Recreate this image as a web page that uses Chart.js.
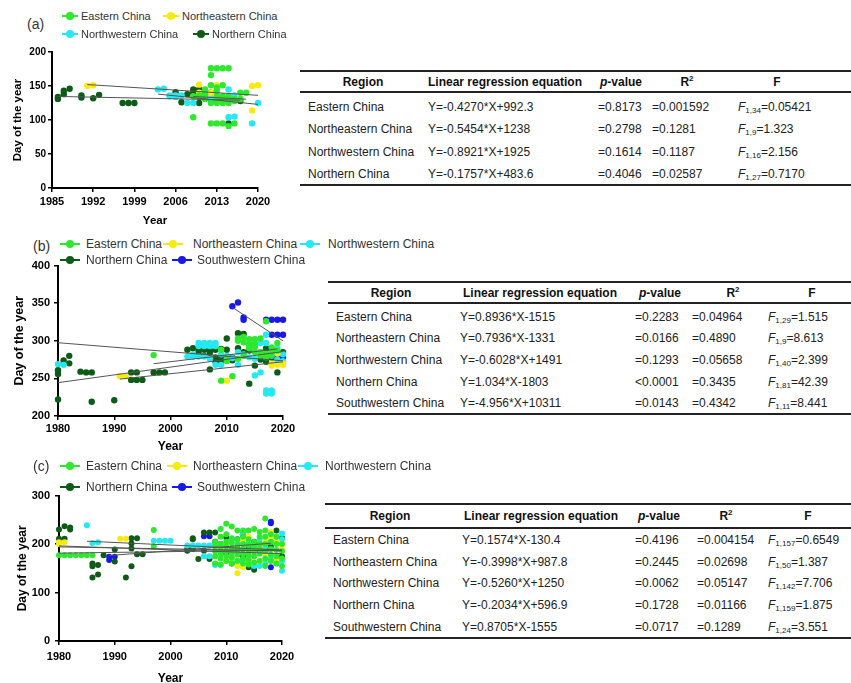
<!DOCTYPE html>
<html>
<head>
<meta charset="utf-8">
<script src="https://cdn.jsdelivr.net/npm/chart.js@4.4.1/dist/chart.umd.min.js"></script>
<style>
  body { margin: 0; width: 851px; height: 683px; overflow: hidden; background: #fff; position: relative;
         font-family: "Liberation Sans", Arial, sans-serif; }
  canvas { position: absolute; }
  .tag { position: absolute; font-size: 14px; color: #333; line-height: 16px; }
  .lg { position: absolute; color: #333; white-space: nowrap; }
  .mk { position: absolute; height: 8px; }
  .mk .ln { position: absolute; left: 0; right: 0; top: 3.25px; height: 1.5px; }
  .mk .dt { position: absolute; left: 50%; top: 0; width: 8px; height: 8px; margin-left: -4px; border-radius: 50%; }
  .rule { position: absolute; height: 2px; background: #222; }
  .cell { position: absolute; font-size: 12px; line-height: 14px; color: #222; white-space: nowrap; }
  .hd { font-weight: bold; color: #111; transform: translateX(-50%); }
  .cell sub { font-size: 8px; vertical-align: -2px; line-height: 0; }
  .cell sup { font-size: 8px; vertical-align: 5px; line-height: 0; }
</style>
</head>
<body>
<canvas id="chartA" width="285" height="195" style="left:0;top:40px"></canvas>
<canvas id="chartB" width="300" height="205" style="left:0;top:255px"></canvas>
<canvas id="chartC" width="300" height="206" style="left:0;top:484px"></canvas>
<script>
const REGIONS = ['Eastern China', 'Northeastern China', 'Northwestern China', 'Northern China', 'Southwestern China'];
const COLORS = ['#2ee82e', '#f7ea10', '#25e8f2', '#0c5c17', '#1818e8'];

// (a) [year, day]
const aEastern = [[2009,104],[2009,135],[2010,136],[2010,134],[2011,145],[2011,140],[2011,136],[2011,131],
  [2012,176],[2012,166],[2012,151],[2012,125],[2012,95],[2013,176],[2013,148],[2013,143],[2013,135],[2013,125],[2013,95],
  [2014,176],[2014,151],[2014,135],[2014,131],[2014,125],[2014,95],[2015,176],[2015,135],[2015,130],[2015,125],[2015,91],
  [2016,131],[2016,128],[2016,95],[2017,140],[2017,131],[2018,140]];
const aNortheastern = [[1991,150],[1992,151],[2010,152],[2010,140],[2012,140],[2013,151],[2013,138],[2014,133],[2019,150],[2019,114],[2020,151]];
const aNorthwestern = [[2003,145],[2004,146],[2005,136],[2005,135],[2006,136],[2006,134],[2007,136],[2008,125],[2009,125],
  [2012,132],[2013,130],[2014,128],[2015,145],[2015,104],[2016,136],[2016,105],[2019,95],[2020,125]];
const aNorthern = [[1986,131],[1986,134],[1987,138],[1987,143],[1988,146],[1990,133],[1990,136],[1992,132],[1993,137],
  [1997,125],[1998,125],[1999,125],[2006,141],[2007,126],[2008,138],[2009,145],[2009,140],[2010,145],[2010,135],[2010,125],
  [2011,138],[2012,140],[2012,130],[2013,133],[2014,128],[2015,131],[2015,95],[2016,130],[2017,128]];

// (b)
const bEastern = [[1997,281],[2009,247],[2009,288],[2010,276],[2010,273],[2011,253],[2012,276],[2012,303],[2012,300],
  [2013,298],[2013,280],[2013,305],[2014,302],[2014,296],[2014,293],[2014,290],[2015,302],[2015,296],[2015,292],[2015,285],
  [2016,303],[2016,285],[2016,280],[2017,326],[2017,283],[2017,278],[2018,280],[2018,285],[2018,291],[2019,297],[2019,287]];
const bNortheastern = [[1991,253],[1992,253],[2010,247],[2016,281],[2017,279],[2018,267],[2018,270],[2019,268],[2019,283],[2020,268],[2020,270]];
const bNorthwestern = [[1980,269],[1981,268],[2003,279],[2004,279],[2004,282],[2005,279],[2005,297],[2005,293],[2006,279],
  [2006,297],[2006,293],[2007,276],[2007,297],[2007,293],[2008,297],[2008,293],[2008,268],[2009,268],[2009,282],[2010,280],
  [2011,277],[2012,268],[2012,285],[2013,282],[2014,278],[2015,276],[2015,254],[2015,286],[2016,258],[2016,297],[2016,285],
  [2017,297],[2017,308],[2017,234],[2017,230],[2018,234],[2018,230],[2018,283],[2019,275],[2019,290],[2020,273],[2020,282]];
const bNorthern = [[1980,261],[1980,256],[1980,222],[1981,274],[1982,280],[1982,270],[1984,259],[1985,258],[1986,258],
  [1986,219],[1990,221],[1993,258],[1994,258],[1993,248],[1994,248],[1995,248],[1997,258],[1998,258],[1999,258],
  [2003,288],[2004,290],[2005,289],[2005,285],[2006,288],[2006,280],[2007,287],[2007,284],[2007,262],[2008,288],[2008,278],
  [2008,272],[2009,289],[2009,276],[2009,273],[2010,288],[2010,278],[2010,274],[2010,303],[2011,274],[2011,278],
  [2012,310],[2012,290],[2013,309],[2013,285],[2014,243],[2014,287],[2015,267],[2016,275],[2017,272],[2017,290],
  [2018,288],[2019,258],[2020,285]];
const bSouthwestern = [[2011,346],[2012,351],[2013,331],[2013,328],[2017,328],[2018,328],[2019,328],[2020,328],
  [2018,308],[2019,308],[2020,308],[2018,278],[2019,278],[2020,278]];

// (c)
const cEastern = [[1980,177],[1981,177],[1982,177],[1983,177],[1984,177],[1985,177],[1986,177],[1997,229],[1997,195],
  [2008,160],[2008,175],[2008,185],[2008,195],[2008,205],
  [2009,158],[2009,170],[2009,180],[2009,190],[2009,200],[2009,215],[2009,231],
  [2010,165],[2010,175],[2010,185],[2010,195],[2010,205],[2010,220],[2010,242],
  [2011,160],[2011,172],[2011,182],[2011,192],[2011,202],[2011,212],[2011,236],
  [2012,165],[2012,178],[2012,188],[2012,198],[2012,210],[2012,228],
  [2013,160],[2013,170],[2013,180],[2013,190],[2013,200],[2013,215],[2013,228],
  [2014,158],[2014,168],[2014,178],[2014,188],[2014,198],[2014,210],[2014,228],
  [2015,162],[2015,175],[2015,185],[2015,195],[2015,205],[2015,231],
  [2016,165],[2016,180],[2016,190],[2016,200],[2016,215],[2016,225],
  [2017,155],[2017,170],[2017,185],[2017,200],[2017,215],[2017,228],[2017,253],
  [2018,165],[2018,178],[2018,190],[2018,205],[2018,220],
  [2019,160],[2019,175],[2019,188],[2019,200],[2019,215],
  [2020,155],[2020,170],[2020,185],[2020,200]];
const cNortheastern = [[1980,204],[1980,200],[1981,204],[1991,211],[1992,211],[2010,165],[2010,200],[2011,170],[2011,185],
  [2012,140],[2012,155],[2013,152],[2013,210],[2014,160],[2014,215],[2015,175],[2016,195],[2016,165],[2017,180],[2017,205],
  [2018,225],[2018,210],[2019,205],[2019,170],[2020,200],[2020,190]];
const cNorthwestern = [[1985,239],[1986,202],[1987,204],[1997,207],[1998,207],[1999,207],[2000,207],[2003,197],[2004,197],
  [2005,197],[2006,197],[2007,197],[2006,175],[2007,175],[2008,157],[2008,200],[2009,157],[2010,200],[2011,178],[2011,210],
  [2012,205],[2012,165],[2013,220],[2013,165],[2014,200],[2014,180],[2015,155],[2015,190],[2016,155],[2016,210],
  [2017,160],[2017,195],[2018,205],[2018,170],[2019,215],[2019,160],[2020,222],[2020,145],[2020,165],[2020,210]];
const cNorthern = [[1980,230],[1980,211],[1981,237],[1981,211],[1982,234],[1982,230],[1986,160],[1986,154],[1986,131],
  [1987,157],[1987,137],[1988,177],[1990,189],[1990,164],[1992,131],[1993,212],[1993,201],[1993,191],[1993,154],
  [1994,212],[1994,179],[1995,179],[2003,186],[2003,190],[2004,212],[2004,210],[2004,190],[2005,169],[2006,224],
  [2006,186],[2007,224],[2007,169],[2008,224],[2008,205],[2009,200],[2010,214],[2010,180],[2011,160],[2012,190],
  [2013,175],[2014,152],[2015,147],[2016,200],[2017,185],[2018,195],[2019,228],[2020,213],[2020,175]];
const cSouthwestern = [[1989,167],[1989,174],[1990,174],[2006,216],[2007,216],[2012,210],[2013,220],[2014,195],
  [2015,205],[2016,185],[2016,200],[2017,200],[2017,190],[2018,246],[2018,243],[2018,152]];

// tables
const HEADERS = ['Region', 'Linear regression equation', '<i>p</i>-value', 'R<sup>2</sup>', 'F'];
const aEquations = ['Y=-0.4270*X+992.3', 'Y=-0.5454*X+1238', 'Y=-0.8921*X+1925', 'Y=-0.1757*X+483.6'];
const aPValues = ['=0.8173', '=0.2798', '=0.1614', '=0.4046'];
const aR2 = ['=0.001592', '=0.1281', '=0.1187', '=0.02587'];
const aFdf = ['1,34', '1,9', '1,16', '1,27'];
const aF = ['=0.05421', '=1.323', '=2.156', '=0.7170'];

const bEquations = ['Y=0.8936*X-1515', 'Y=0.7936*X-1331', 'Y=-0.6028*X+1491', 'Y=1.034*X-1803', 'Y=-4.956*X+10311'];
const bPValues = ['=0.2283', '=0.0166', '=0.1293', '<0.0001', '=0.0143'];
const bR2 = ['=0.04964', '=0.4890', '=0.05658', '=0.3435', '=0.4342'];
const bFdf = ['1,29', '1,9', '1,40', '1,81', '1,11'];
const bF = ['=1.515', '=8.613', '=2.399', '=42.39', '=8.441'];

const cEquations = ['Y=0.1574*X-130.4', 'Y=-0.3998*X+987.8', 'Y=-0.5260*X+1250', 'Y=-0.2034*X+596.9', 'Y=0.8705*X-1555'];
const cPValues = ['=0.4196', '=0.2445', '=0.0062', '=0.1728', '=0.0717'];
const cR2 = ['=0.004154', '=0.02698', '=0.05147', '=0.01166', '=0.1289'];
const cFdf = ['1,157', '1,50', '1,142', '1,159', '1,24'];
const cF = ['=0.6549', '=1.387', '=7.706', '=1.875', '=3.551'];

Chart.defaults.font.family = "'Liberation Sans', Arial, sans-serif";

function drawPanel(id, series, equations, ax) {
  const datasets = series.map((pts, i) => ({
    label: REGIONS[i],
    data: pts.map(p => ({ x: p[0], y: p[1] })),
    backgroundColor: COLORS[i],
    borderWidth: 0,
    pointRadius: ax.r,
    pointHoverRadius: ax.r,
    clip: false,
    order: i
  }));
  // fitted lines over each region's year range
  series.forEach((pts, i) => {
    const m = equations[i].match(/^Y=(-?[\d.]+)\*X([+-][\d.]+)$/);
    const slope = parseFloat(m[1]), icpt = parseFloat(m[2]);
    const xs = pts.map(p => p[0]);
    const lo = Math.min(...xs), hi = Math.max(...xs);
    datasets.push({
      label: 'fit', data: [{ x: lo, y: slope * lo + icpt }, { x: hi, y: slope * hi + icpt }],
      showLine: true, borderColor: '#555', borderWidth: 1, pointRadius: 0, clip: false, order: -1
    });
  });

  new Chart(document.getElementById(id), {
    type: 'scatter',
    data: { datasets },
    options: {
      responsive: false,
      animation: false,
      events: [],
      layout: { padding: { left: 0, right: ax.padRight, top: ax.padTop, bottom: 0 } },
      plugins: { legend: { display: false }, tooltip: { enabled: false } },
      scales: {
        x: {
          type: 'linear', min: ax.xMin, max: ax.xMax,
          afterFit: s => { s.height = ax.xH; },
          border: { color: '#000', width: 2 },
          grid: { drawOnChartArea: false, color: '#000', lineWidth: 1.5, tickLength: 4 },
          ticks: { stepSize: ax.xStep, color: '#000', font: { size: 11, weight: 'bold' }, padding: ax.xPad,
                   maxRotation: 0, autoSkip: false, callback: v => String(v) },
          title: { display: true, text: 'Year', color: '#000', font: { size: ax.xTitleSize, weight: 'bold' },
                   padding: { top: 0, bottom: ax.xTitlePad } }
        },
        y: {
          type: 'linear', min: ax.yMin, max: ax.yMax,
          afterFit: s => { s.width = ax.yW; },
          border: { color: '#000', width: 2 },
          grid: { drawOnChartArea: false, color: '#000', lineWidth: 1.5, tickLength: 4 },
          ticks: { stepSize: ax.yStep, color: '#000', font: { size: ax.yTick, weight: 'bold' }, padding: ax.yPad,
                   callback: v => String(v) },
          title: { display: true, text: 'Day of the year', color: '#000', font: { size: ax.yTitleSize, weight: 'bold' },
                   padding: { top: ax.yTitlePad, bottom: 0 } }
        }
      }
    }
  });
}

function addLegend(tag, items, size, mw, n) {
  const t = document.createElement('div');
  t.className = 'tag';
  t.textContent = tag.text;
  t.style.left = tag.x + 'px';
  t.style.top = (tag.y - 8) + 'px';
  document.body.appendChild(t);
  items.slice(0, n).forEach((it, i) => {
    const m = document.createElement('div');
    m.className = 'mk';
    m.style.left = it[0] + 'px';
    m.style.top = (it[2] - 4) + 'px';
    m.style.width = mw + 'px';
    m.innerHTML = '<span class="ln" style="background:' + COLORS[i] + '"></span><span class="dt" style="background:' + COLORS[i] + '"></span>';
    document.body.appendChild(m);
    const l = document.createElement('div');
    l.className = 'lg';
    l.textContent = REGIONS[i];
    l.style.fontSize = size + 'px';
    l.style.lineHeight = (size + 2) + 'px';
    l.style.left = it[1] + 'px';
    l.style.top = (it[2] - (size + 2) / 2) + 'px';
    document.body.appendChild(l);
  });
}

function addTable(t, equations, pvals, r2, fdf, fvals) {
  [t.top, t.hdrLine, t.bottom].forEach(y => {
    const r = document.createElement('div');
    r.className = 'rule';
    r.style.left = t.left + 'px';
    r.style.width = (860 - t.left) + 'px';
    r.style.top = (y - 1) + 'px';
    document.body.appendChild(r);
  });
  const put = (html, x, y, cls) => {
    const c = document.createElement('div');
    c.className = 'cell' + (cls ? ' ' + cls : '');
    c.innerHTML = html;
    c.style.left = x + 'px';
    c.style.top = (y - 7) + 'px';
    document.body.appendChild(c);
  };
  HEADERS.forEach((h, j) => put(h, t.hdrX[j], t.hdrY, 'hd'));
  equations.forEach((eq, i) => {
    const y = t.row0 + i * t.step;
    const vals = [REGIONS[i], eq, pvals[i], r2[i], '<i>F</i><sub>' + fdf[i] + '</sub>' + fvals[i]];
    vals.forEach((v, j) => put(v, t.dataX[j], y));
  });
}

// panel (a)
addLegend({ text: '(a)', x: 27, y: 24 }, [[62, 81, 16], [163, 182, 16], [62, 81, 34], [193, 212, 34]], 11, 16, 4);
drawPanel('chartA', [aEastern, aNortheastern, aNorthwestern, aNorthern], aEquations, {
  r: 3.2, xMin: 1985, xMax: 2020, xStep: 7, yMin: 0, yMax: 200, yStep: 50,
  padTop: 12, padRight: 27, yW: 52, xH: 47, xPad: 3, yPad: 2, yTick: 10,
  xTitleSize: 11.5, xTitlePad: 7, yTitleSize: 11.5, yTitlePad: 11
});
addTable({ left: 300, top: 70.5, hdrLine: 91.7, bottom: 185.3, hdrY: 81.7, row0: 106.7, step: 22.5,
  dataX: [308, 428, 598, 652, 738], hdrX: [363, 505, 621, 687, 777] }, aEquations, aPValues, aR2, aFdf, aF);

// panel (b)
addLegend({ text: '(b)', x: 33, y: 246 }, [[60, 86, 244], [163, 193, 244], [300, 328, 244], [60, 86, 260], [172, 197, 260]], 12, 20, 5);
drawPanel('chartB', [bEastern, bNortheastern, bNorthwestern, bNorthern, bSouthwestern], bEquations, {
  r: 3.2, xMin: 1980, xMax: 2020, xStep: 10, yMin: 200, yMax: 400, yStep: 50,
  padTop: 9, padRight: 17, yW: 58, xH: 44, xPad: 2.5, yPad: 4, yTick: 11,
  xTitleSize: 12, xTitlePad: 6, yTitleSize: 12.5, yTitlePad: 12.5
});
addTable({ left: 328, top: 281.7, hdrLine: 303.3, bottom: 414, hdrY: 293.3, row0: 316.7, step: 21.65,
  dataX: [336, 460, 635, 692, 768], hdrX: [391, 540, 660, 733, 812] }, bEquations, bPValues, bR2, bFdf, bF);

// panel (c)
addLegend({ text: '(c)', x: 33, y: 466 }, [[60, 86, 466], [167, 193, 466], [298, 325, 466], [60, 86, 487], [172, 197, 487]], 12, 20, 5);
drawPanel('chartC', [cEastern, cNortheastern, cNorthwestern, cNorthern, cSouthwestern], cEquations, {
  r: 3.0, xMin: 1980, xMax: 2020, xStep: 10, yMin: 0, yMax: 300, yStep: 100,
  padTop: 9, padRight: 18, yW: 59, xH: 49, xPad: 5, yPad: 5, yTick: 11,
  xTitleSize: 12, xTitlePad: 4, yTitleSize: 12, yTitlePad: 15
});
addTable({ left: 325, top: 503.7, hdrLine: 527.7, bottom: 638.3, hdrY: 516, row0: 540, step: 21.67,
  dataX: [333, 462, 635, 697, 768], hdrX: [390, 541, 659, 726, 808] }, cEquations, cPValues, cR2, cFdf, cF);
</script>
</body>
</html>
